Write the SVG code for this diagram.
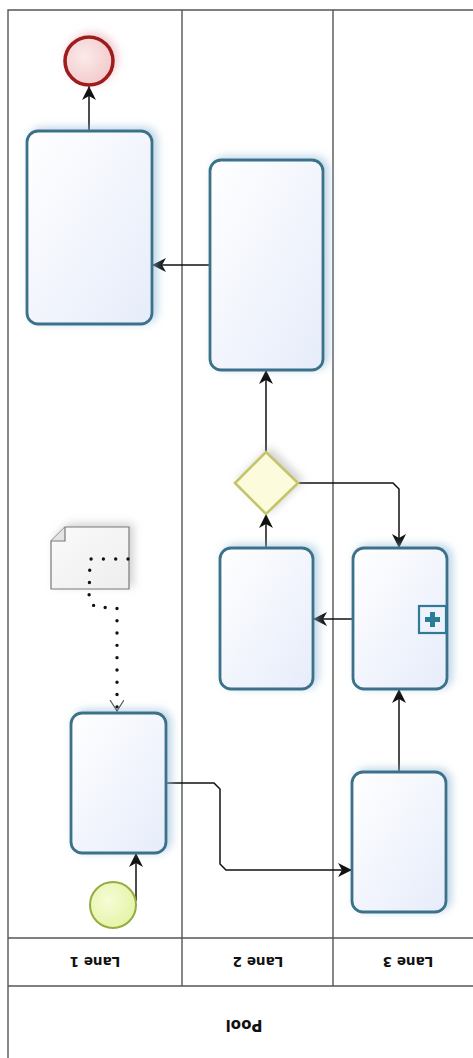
<svg xmlns="http://www.w3.org/2000/svg" width="473" height="1058" viewBox="0 0 473 1058">
<style>
.lane{fill:none;stroke:#555555;stroke-width:1.4}
.task{fill:url(#gTask);stroke:#3b7189;stroke-width:2.8;filter:url(#sh)}
.flow{fill:none;stroke:#111;stroke-width:1.5}
.lbl{font-family:"DejaVu Sans",sans-serif;font-weight:bold;fill:#111;text-anchor:middle;dominant-baseline:central}
</style>
<defs>
<linearGradient id="gTask" x1="0" y1="0" x2="1" y2="1">
<stop offset="0" stop-color="#ffffff"/>
<stop offset="1" stop-color="#e6ecfa"/>
</linearGradient>
<radialGradient id="gEnd" cx="0.4" cy="0.4" r="0.7">
<stop offset="0" stop-color="#fbeaea"/>
<stop offset="1" stop-color="#f3c6c8"/>
</radialGradient>
<radialGradient id="gStart" cx="0.4" cy="0.4" r="0.7">
<stop offset="0" stop-color="#f6fcd6"/>
<stop offset="1" stop-color="#e3f3a2"/>
</radialGradient>
<linearGradient id="gData" x1="0" y1="0" x2="1" y2="1">
<stop offset="0" stop-color="#fafafa"/>
<stop offset="1" stop-color="#eeeeee"/>
</linearGradient>
<filter id="sh" x="-30%" y="-30%" width="160%" height="160%">
<feGaussianBlur in="SourceAlpha" stdDeviation="4" result="b"/>
<feOffset in="b" dx="4" dy="-2" result="o"/>
<feFlood flood-color="#8fb8d6" flood-opacity="0.6"/>
<feComposite in2="o" operator="in" result="s"/>
<feMerge><feMergeNode in="s"/><feMergeNode in="SourceGraphic"/></feMerge>
</filter>
<filter id="shG" x="-40%" y="-40%" width="180%" height="180%">
<feGaussianBlur in="SourceAlpha" stdDeviation="4" result="b"/>
<feOffset in="b" dx="4" dy="-3" result="o"/>
<feFlood flood-color="#9a9a9a" flood-opacity="0.45"/>
<feComposite in2="o" operator="in" result="s"/>
<feMerge><feMergeNode in="s"/><feMergeNode in="SourceGraphic"/></feMerge>
</filter>
<filter id="shR" x="-50%" y="-50%" width="200%" height="200%">
<feGaussianBlur in="SourceAlpha" stdDeviation="4" result="b"/>
<feOffset in="b" dx="3" dy="-3" result="o"/>
<feFlood flood-color="#e8a8b0" flood-opacity="0.6"/>
<feComposite in2="o" operator="in" result="s"/>
<feMerge><feMergeNode in="s"/><feMergeNode in="SourceGraphic"/></feMerge>
</filter>
<marker id="arr" markerUnits="userSpaceOnUse" markerWidth="16" markerHeight="16" refX="14" refY="7" orient="auto">
<path d="M0,0 L14,7 L0,14 L4,7 z" fill="#111"/>
</marker>
<marker id="open" markerUnits="userSpaceOnUse" markerWidth="16" markerHeight="16" refX="11" refY="7" orient="auto">
<path d="M0,0 L11,7 L0,14" fill="none" stroke="#555" stroke-width="1.2"/>
</marker>
</defs>
<rect width="473" height="1058" fill="#ffffff"/>
<g id="pool">
<path class="lane" d="M8,1058 L8,10 L473,10"/>
<line class="lane" x1="182" y1="10" x2="182" y2="986"/>
<line class="lane" x1="333" y1="10" x2="333" y2="986"/>
<line class="lane" x1="8" y1="938" x2="473" y2="938"/>
<line class="lane" x1="8" y1="986" x2="473" y2="986"/>
<text class="lbl" font-size="15" transform="rotate(180 244 1025)" x="244" y="1025">Pool</text>
</g>
<g id="lane1"><text class="lbl" font-size="13.5" transform="rotate(180 95 962)" x="95" y="962">Lane 1</text></g>
<g id="lane2"><text class="lbl" font-size="13.5" transform="rotate(180 258 962)" x="258" y="962">Lane 2</text></g>
<g id="lane3"><text class="lbl" font-size="13.5" transform="rotate(180 408 962)" x="408" y="962">Lane 3</text></g>
<g id="connectors">
<path class="flow" d="M136,901 L136,853" marker-end="url(#arr)"/>
<path class="flow" d="M166,783 L214,783 L220,789 L220,864 L226,870 L352,870" marker-end="url(#arr)"/>
<path class="flow" d="M399,772 L399,689" marker-end="url(#arr)"/>
<path class="flow" d="M353,619 L313,619" marker-end="url(#arr)"/>
<path class="flow" d="M266,548 L266,514" marker-end="url(#arr)"/>
<path class="flow" d="M266,452 L266,370" marker-end="url(#arr)"/>
<path class="flow" d="M298,483 L393,483 L399,489 L399,548" marker-end="url(#arr)"/>
<path class="flow" d="M210,265 L152,265" marker-end="url(#arr)"/>
<path class="flow" d="M89,131 L89,86" marker-end="url(#arr)"/>
</g>
<g id="startEvent"><circle cx="113" cy="905" r="23" fill="url(#gStart)" stroke="#93ad3e" stroke-width="2"/></g>
<g id="endEvent"><circle cx="89" cy="61" r="24" fill="url(#gEnd)" stroke="#9e1a1e" stroke-width="3.6" filter="url(#shR)"/></g>
<g id="taskA"><rect class="task" x="27" y="131" width="125" height="193" rx="11"/></g>
<g id="taskB"><rect class="task" x="210" y="160" width="113" height="210" rx="11"/></g>
<g id="taskD"><rect class="task" x="220" y="548" width="93" height="141" rx="11"/></g>
<g id="subprocessC"><rect class="task" x="353" y="548" width="94" height="141" rx="11"/>
<rect x="419" y="606" width="27" height="27" fill="#eef2fb" stroke="#2f7a94" stroke-width="2.2"/>
<path d="M430,612 h5 v5 h5 v5 h-5 v5 h-5 v-5 h-5 v-5 h5 z" fill="#2a7d99"/></g>
<g id="taskE"><rect class="task" x="352" y="772" width="94" height="140" rx="11"/></g>
<g id="taskF"><rect class="task" x="71" y="713" width="95" height="140" rx="11"/></g>
<g id="gateway"><polygon points="266,452 298,483 266,514 235,483" fill="#fcfbdc" stroke="#c4c46a" stroke-width="2.6" filter="url(#shG)"/></g>
<g id="dataObject"><path d="M65,527 L129,527 L129,589 L51,589 L51,541 Z" fill="url(#gData)" stroke="#7a7a7a" stroke-width="1.2" filter="url(#shG)"/>
<path d="M51,541 L65,541 L65,527" fill="#e4e4e4" stroke="#7a7a7a" stroke-width="1.2"/></g>
<g id="association"><path d="M128,559 L90,559 L89,600 L95,607 L117,608 L117,711" fill="none" stroke="#111" stroke-width="3.4" stroke-linecap="round" stroke-dasharray="0 12.3" marker-end="url(#open)"/></g>
</svg>
